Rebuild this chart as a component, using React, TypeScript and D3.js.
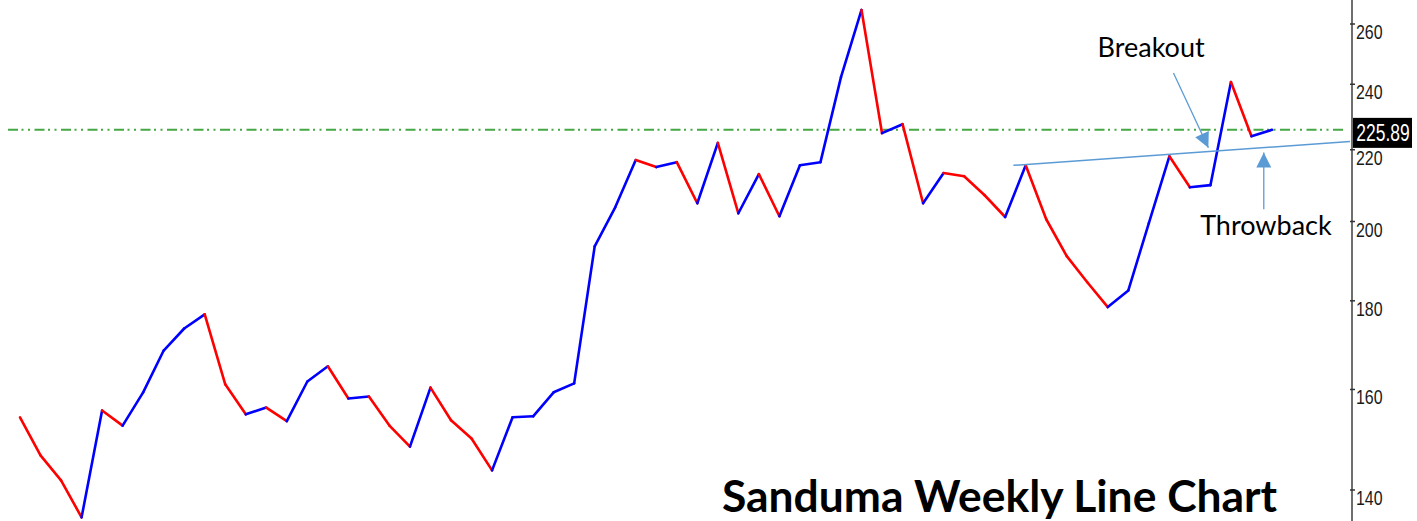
import React from "react";
import * as d3 from "d3";

const WIDTH = 1417;
const HEIGHT = 521;

// weekly closes
const closes = [
  154.2, 146.6, 141.8, 135.0, 155.6, 152.5, 159.4, 168.5, 173.5, 176.8,
  161.1, 154.8, 156.2, 153.4, 161.7, 165.0, 158.1, 158.5, 152.5, 148.3,
  160.4, 153.6, 149.9, 143.7, 154.2, 154.4, 159.4, 161.3, 193.5, 203.8,
  217.0, 215.0, 216.4, 204.9, 222.0, 202.2, 213.0, 201.4, 215.5, 216.4,
  242.3, 264.9, 224.9, 227.6, 204.9, 213.3, 212.4, 207.1, 201.2, 215.5,
  200.6, 191.0, 184.5, 178.5, 182.5, 199.6, 218.1, 209.3, 209.9, 240.7,
  224.0, 225.89,
];

const yTicks = [140, 160, 180, 200, 220, 240, 260];
const lastPrice = 225.89;

// annotations, in (week, price)
const trendLine = [
  { week: 48.4, value: 215.5 },
  { week: 64.8, value: 222.4 },
];
const breakoutArrow = [
  { week: 56.2, value: 243.6 },
  { week: 57.9, value: 220.6 },
];
const throwbackArrow = [
  { week: 60.6, value: 203.3 },
  { week: 60.6, value: 219.2 },
];
const labels = [
  { text: "Breakout", week: 52.5, value: 248.8 },
  { text: "Throwback", week: 57.5, value: 196.4 },
];

const AXIS_FONT = "'Liberation Sans', Arial, sans-serif";

const App = () => {
  const ref = React.useRef<SVGSVGElement>(null);

  React.useEffect(() => {
    const svg = d3.select(ref.current!);
    svg.selectAll("*").remove();

    const x = d3.scaleLinear().domain([0, closes.length - 1]).range([20, 1272]);
    const y = d3.scaleLog().domain([140, 260]).range([490, 24]);
    const axisX = 1352;

    const defs = svg.append("defs");
    defs
      .append("marker")
      .attr("id", "head")
      .attr("viewBox", "0 0 10 10")
      .attr("refX", 10)
      .attr("refY", 5)
      .attr("markerUnits", "userSpaceOnUse")
      .attr("markerWidth", 17)
      .attr("markerHeight", 15)
      .attr("orient", "auto")
      .append("path")
      .attr("d", "M0,0L10,5L0,10Z")
      .attr("fill", "#5b9bd5");

    // resistance / last price line
    svg
      .append("line")
      .attr("x1", 8)
      .attr("x2", axisX - 6)
      .attr("y1", y(lastPrice))
      .attr("y2", y(lastPrice))
      .attr("stroke", "#44a844")
      .attr("stroke-width", 2)
      .attr("stroke-dasharray", "10 3.5 2 4.5 2 4.5");

    // price segments: red when falling, blue when rising
    const segs = d3.pairs(closes.map((v, i) => ({ i, v })));
    svg
      .append("g")
      .selectAll("line")
      .data(segs)
      .join("line")
      .attr("x1", (d) => x(d[0].i))
      .attr("y1", (d) => y(d[0].v))
      .attr("x2", (d) => x(d[1].i))
      .attr("y2", (d) => y(d[1].v))
      .attr("stroke", (d) => (d[1].v < d[0].v ? "#ff0000" : "#0000ff"))
      .attr("stroke-width", 2.6)
      .attr("stroke-linecap", "round");

    // trend line
    svg
      .append("line")
      .attr("x1", x(trendLine[0].week))
      .attr("y1", y(trendLine[0].value))
      .attr("x2", x(trendLine[1].week))
      .attr("y2", y(trendLine[1].value))
      .attr("stroke", "#5b9bd5")
      .attr("stroke-width", 1.5);

    for (const a of [breakoutArrow, throwbackArrow]) {
      svg
        .append("line")
        .attr("x1", x(a[0].week))
        .attr("y1", y(a[0].value))
        .attr("x2", x(a[1].week))
        .attr("y2", y(a[1].value))
        .attr("stroke", "#5b9bd5")
        .attr("stroke-width", 1.3)
        .attr("marker-end", "url(#head)");
    }

    svg
      .append("g")
      .selectAll("text")
      .data(labels)
      .join("text")
      .attr("x", (d) => x(d.week))
      .attr("y", (d) => y(d.value))
      .attr("font-family", "Lato, 'Open Sans', sans-serif")
      .attr("font-size", 27)
      .attr("fill", "#000")
      .text((d) => d.text);

    // right axis
    svg
      .append("line")
      .attr("x1", axisX)
      .attr("x2", axisX)
      .attr("y1", 0)
      .attr("y2", HEIGHT)
      .attr("stroke", "#6e6e6e")
      .attr("stroke-width", 2);

    const ticks = svg.append("g").selectAll("g").data(yTicks).join("g")
      .attr("transform", (d) => `translate(${axisX},${y(d)})`);
    ticks
      .append("line")
      .attr("x1", -2)
      .attr("x2", 3)
      .attr("stroke", "#333")
      .attr("stroke-width", 1.5);
    ticks
      .append("text")
      .attr("transform", "translate(4,15) scale(0.76,1)")
      .attr("font-family", AXIS_FONT)
      .attr("font-size", 21)
      .attr("fill", "#1a1a1a")
      .text((d) => d);

    // last price box
    const box = svg.append("g").attr("transform", `translate(${axisX + 1},${y(lastPrice) - 12})`);
    box.append("rect").attr("width", 59).attr("height", 30).attr("fill", "#000");
    box
      .append("text")
      .attr("transform", "translate(30,23) scale(0.76,1)")
      .attr("text-anchor", "middle")
      .attr("font-family", AXIS_FONT)
      .attr("font-size", 23)
      .attr("fill", "#fff")
      .text(lastPrice.toFixed(2));

    svg
      .append("text")
      .attr("x", 722)
      .attr("y", 512)
      .attr("font-family", "Lato, 'Open Sans', sans-serif")
      .attr("font-weight", "bold")
      .attr("font-size", 44.4)
      .attr("fill", "#000")
      .text("Sanduma Weekly Line Chart");
  }, []);

  return (
    <svg
      ref={ref}
      width={WIDTH}
      height={HEIGHT}
      style={{ position: "absolute", left: 0, top: 0, background: "#fff" }}
    />
  );
};

export default App;
